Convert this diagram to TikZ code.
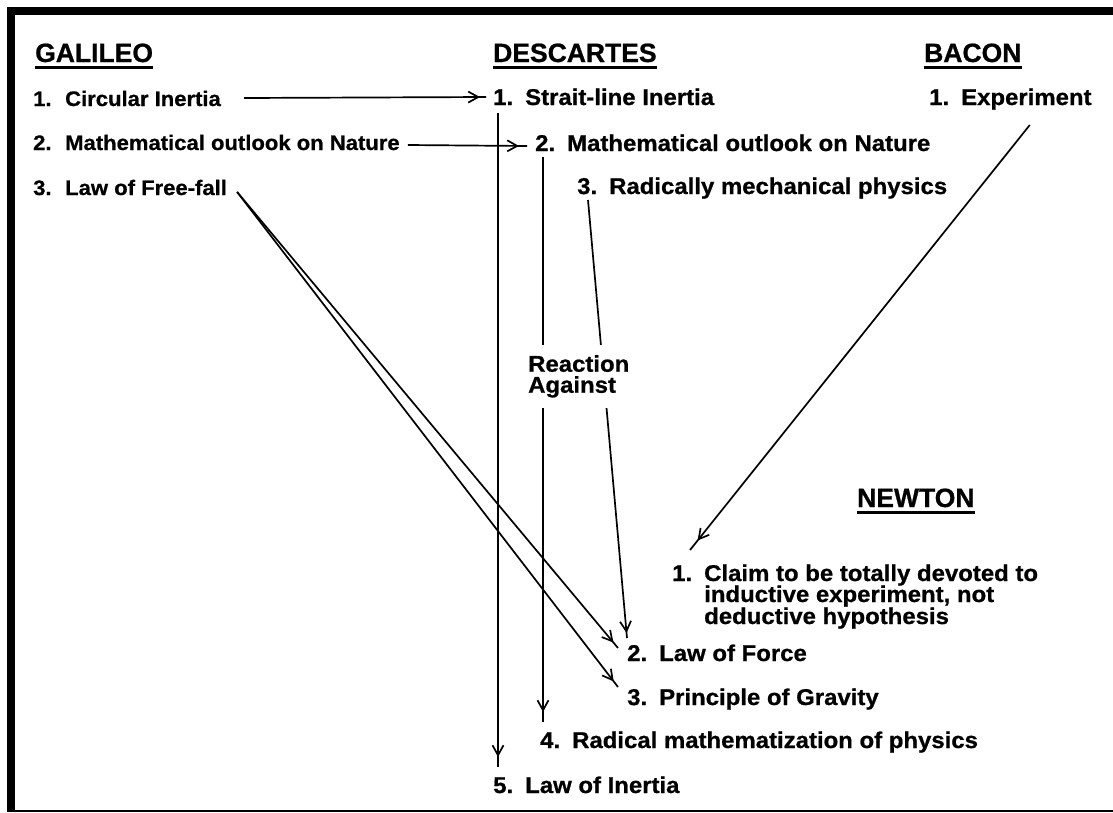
\documentclass[tikz,border=0pt]{standalone}
\usepackage{fontspec}
\setmainfont{Liberation Sans}
\newfontfamily\headfont{Liberation Sans}[FakeBold=0.8]
\newfontfamily\itemfont{Liberation Sans}[FakeStretch=1.05,FakeBold=0.8]
\usetikzlibrary{calc,arrows.meta,decorations.markings}

% number column of a list entry
\newcommand\itemno[1]{\makebox[32pt][l]{#1}}

\tikzset{
  head/.style={anchor=base west, inner sep=0pt,
    font=\headfont\fontsize{26.5}{30}\selectfont\bfseries},
  itemL/.style={anchor=base west, inner sep=0pt,
    font=\itemfont\fontsize{21}{22}\selectfont\bfseries},
  itemM/.style={anchor=base west, inner sep=0pt,
    font=\itemfont\fontsize{22.8}{21}\selectfont\bfseries},
  gapnote/.style={itemM, anchor=north west, align=left, fill=white,
    inner xsep=1pt, inner ysep=10pt},
  uline/.style={line width=2.2pt},
  conn/.style={line width=1.7pt, postaction={decorate},
    decoration={markings,
      mark=at position -#1 with {\arrow{Straight Barb[length=10pt,width=11pt]}}}},
  conn/.default=7pt
}

\begin{document}
\begin{tikzpicture}[x=1pt,y=-1pt]
\useasboundingbox (0,0) rectangle (1113,812);

% frame
\fill[black] (7,7) rectangle (1113,15);
\fill[black] (7,7) rectangle (15,812);
\fill[black] (7,810) rectangle (1113,812);

% column headings
\node[head] (galH) at (35,62) {GALILEO};
\node[head] (desH) at (493,62) {DESCARTES};
\node[head] (bacH) at (924,62) {BACON};
\node[head] (newH) at (857,507) {NEWTON};
\foreach \h in {galH,desH,bacH,newH}
  \draw[uline] ($(\h.base west)+(0,5.5)$) -- ($(\h.base east)+(0,5.5)$);

% Galileo
\node[itemL] (gal1) at (33,106) {\itemno{1.}Circular Inertia};
\node[itemL] (gal2) at (33,150) {\itemno{2.}Mathematical outlook on Nature};
\node[itemL] (gal3) at (33,195) {\itemno{3.}Law of Free-fall};

% Descartes
\node[itemM] (des1) at (493,105) {\itemno{1.}Strait-line Inertia};
\node[itemM] (des2) at (535,151) {\itemno{2.}Mathematical outlook on Nature};
\node[itemM] (des3) at (577,194) {\itemno{3.}Radically mechanical physics};

% Bacon
\node[itemM] (bac1) at (929,105) {\itemno{1.}Experiment};

% Newton
\node[itemM] (new1) at (672,581) {\itemno{1.}Claim to be totally devoted to};
\node[itemM] (new1b) at (704,602) {inductive experiment, not};
\node[itemM] (new1c) at (704,624) {deductive hypothesis};
\node[itemM] (new2) at (627,661) {\itemno{2.}Law of Force};
\node[itemM] (new3) at (627,705) {\itemno{3.}Principle of Gravity};
\node[itemM] (new4) at (540,748) {\itemno{4.}Radical mathematization of physics};
\node[itemM] (new5) at (493,793) {\itemno{5.}Law of Inertia};

% influences
\draw[conn=6pt] ($(gal1.base east)+(23,-8)$) -- ($(des1.base west)+(-7,-8)$);
\draw[conn=8pt] ($(gal2.base east)+(8,-5)$) -- ($(des2.base west)+(-8,-5)$);
\draw[conn] ($(gal3.base east)+(10,-3)$) -- ($(new2.base west)+(-9,-13)$);
\draw[conn] ($(gal3.base east)+(10,-3)$) -- ($(new3.base west)+(-9,-18)$);
\draw[conn=10pt] ($(des1.base west)+(5,8)$) -- ($(new5.base west)+(5,-26)$);
\draw[conn=10pt] ($(des2.base west)+(8,6)$) -- ($(new4.base west)+(3,-26)$);
\draw[conn=5pt] ($(des3.base west)+(11,6)$) -- ($(new2.base west)+(0,-23)$);
\draw[conn=12pt] ($(bac1.base east)+(-62,20)$) -- ($(new1.base west)+(18,-31)$);

% label set over the two Descartes lines
\node[gapnote] (react) at (527,345) {Reaction\\Against};
\end{tikzpicture}
\end{document}
